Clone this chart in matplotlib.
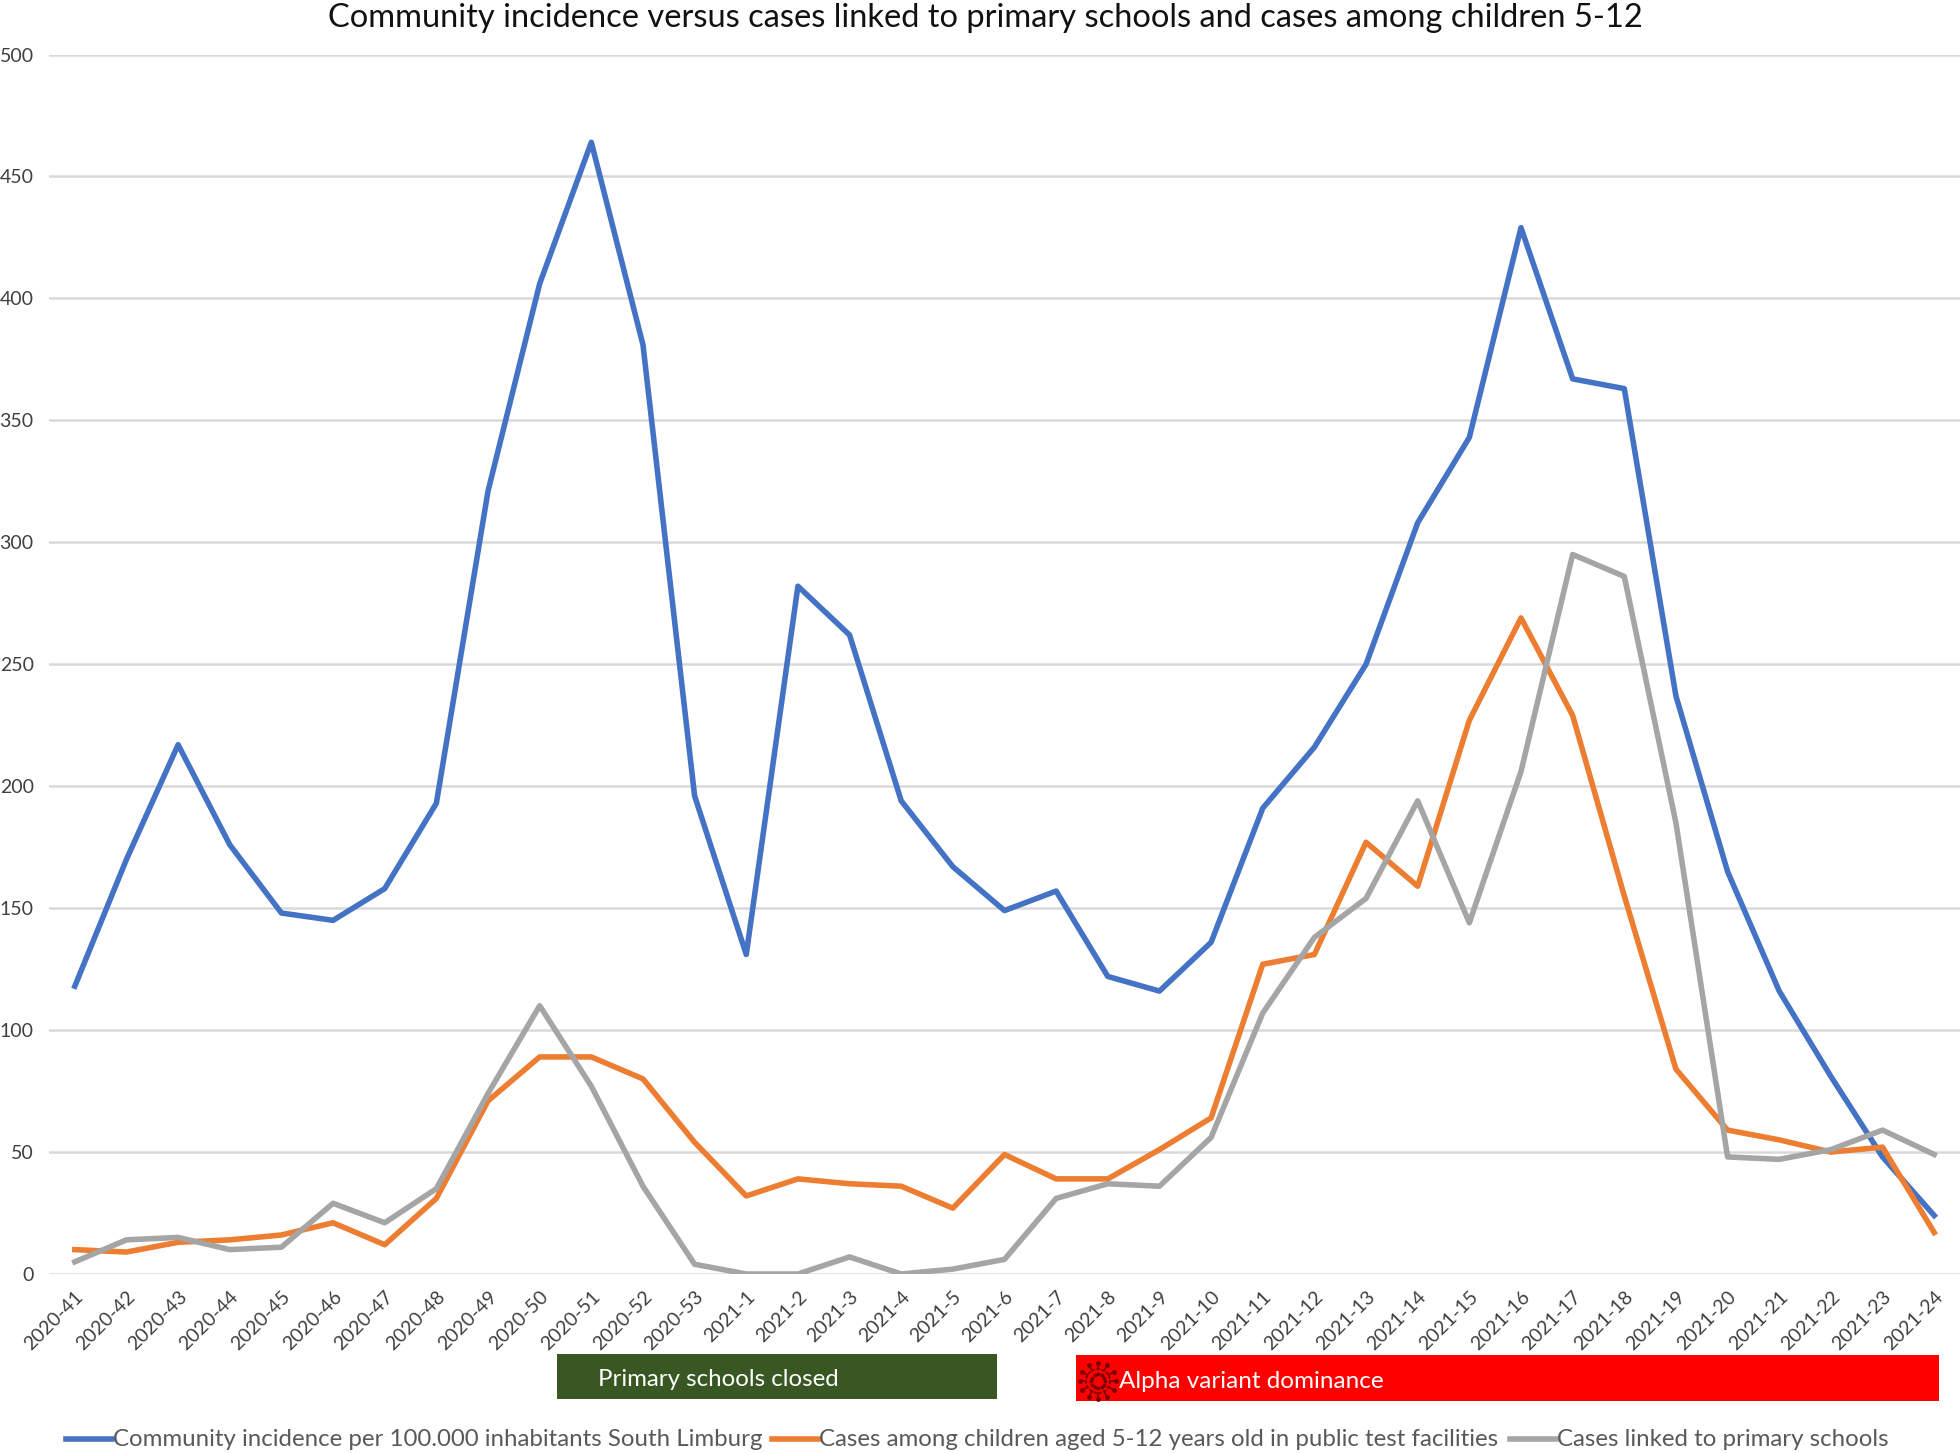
import matplotlib
matplotlib.use("Agg")
import matplotlib.pyplot as plt
from matplotlib.lines import Line2D
from matplotlib.patches import Rectangle
from matplotlib.transforms import blended_transform_factory
import numpy as np

W, H = 1960, 1453

weeks = ["2020-%d" % w for w in range(41, 54)] + ["2021-%d" % w for w in range(1, 25)]

community = [118, 170, 217, 176, 148, 145, 158, 193, 321, 406, 464, 381, 196,
             131, 282, 262, 194, 167, 149, 157, 122, 116, 136, 191, 216, 250,
             308, 343, 429, 367, 363, 237, 165, 116, 81, 48, 24]
children = [10, 9, 13, 14, 16, 21, 12, 31, 71, 89, 89, 80, 54,
            32, 39, 37, 36, 27, 49, 39, 39, 51, 64, 127, 131, 177,
            159, 227, 269, 229, 155, 84, 59, 55, 50, 52, 17]
schools = [5, 14, 15, 10, 11, 29, 21, 35, 74, 110, 77, 36, 4,
           0, 0, 7, 0, 2, 6, 31, 37, 36, 56, 107, 138, 154,
           194, 144, 206, 295, 286, 185, 48, 47, 51, 59, 49]

# spans of the two bars under the axis, in week positions
closed_span = (9.34, 17.85)
alpha_span = (19.38, 36.1)

BLUE = "#4472C4"
ORANGE = "#ED7D31"
GRAY = "#A5A5A5"
TEXT = "#595959"

plt.rcParams["font.family"] = ["Lato", "DejaVu Sans"]


def fx(x):
    return x / W


def fy(y):
    return 1 - y / H


fig = plt.figure(figsize=(W / 100, H / 100), dpi=100)
ax = fig.add_axes([fx(49), fy(1274), fx(1960) - fx(49), fy(54.5) - fy(1274)])

x = np.arange(len(weeks))
ax.plot(x, community, color=BLUE, lw=4, zorder=3)
ax.plot(x, children, color=ORANGE, lw=4, zorder=4)
ax.plot(x, schools, color=GRAY, lw=4, zorder=5)

ax.set_xlim(-0.5, len(weeks) - 0.5)
ax.set_ylim(0, 500)
ax.set_yticks(range(0, 501, 50))
ax.set_xticks(x)
ax.set_xticklabels(weeks, rotation=45, ha="right", rotation_mode="anchor")
ax.tick_params(axis="x", length=0, pad=10, labelsize=14, labelcolor="#404040")
ax.tick_params(axis="y", length=0, pad=11, labelsize=14, labelcolor="#404040")
ax.grid(axis="y", color="#D9D9D9", lw=1.8)
ax.set_axisbelow(True)
for s in ax.spines.values():
    s.set_visible(False)

fig.text(fx(985), fy(18), "Community incidence versus cases linked to primary schools and cases among children 5-12",
         ha="center", va="center", fontsize=23.5, color="#111111")

# bars below the axis, x follows the weeks
trans = blended_transform_factory(ax.transData, fig.transFigure)
ax.add_patch(Rectangle((closed_span[0], fy(1399)), closed_span[1] - closed_span[0], fy(1354) - fy(1399),
                       transform=trans, color="#385723", clip_on=False, lw=0))
ax.add_patch(Rectangle((alpha_span[0], fy(1401)), alpha_span[1] - alpha_span[0], fy(1355) - fy(1401),
                       transform=trans, color="#FF0000", clip_on=False, lw=0))
fig.text(fx(598), fy(1380), "Primary schools closed", color="white", fontsize=17.3, va="center")
fig.text(fx(1119), fy(1382), "Alpha variant dominance", color="white", fontsize=17.5, va="center")

# virus icon
cx, cy, r = 1098, 1381, 12
dark = "#7A0000"
for ang in np.arange(0, 360, 30):
    a = np.radians(ang)
    fig.add_artist(Line2D([fx(cx + r * np.cos(a)), fx(cx + (r + 5) * np.cos(a))],
                          [fy(cy + r * np.sin(a)), fy(cy + (r + 5) * np.sin(a))],
                          color=dark, lw=1.2))
    fig.add_artist(Line2D([fx(cx + (r + 6) * np.cos(a))], [fy(cy + (r + 6) * np.sin(a))],
                          marker="o", ms=2.5, color=dark, lw=0))
    fig.add_artist(Line2D([fx(cx + 7 * np.cos(a))], [fy(cy + 7 * np.sin(a))],
                          marker="o", ms=1.8, color=dark, lw=0))
angs = np.radians(np.arange(0, 361, 10))
fig.add_artist(Line2D(fx(cx + r * np.cos(angs)), fy(cy + r * np.sin(angs)), color=dark, lw=1.2, ls=(0, (2, 1))))

# legend, placed by hand
entries = [(66, 112, BLUE, "Community incidence per 100.000 inhabitants South Limburg"),
           (772, 818, ORANGE, "Cases among children aged 5-12 years old in public test facilities"),
           (1510, 1556, GRAY, "Cases linked to primary schools")]
for x0, x1, col, label in entries:
    fig.add_artist(Line2D([fx(x0), fx(x1)], [fy(1439), fy(1439)], color=col, lw=4))
    fig.text(fx(x1 + 1), fy(1440), label, color=TEXT, fontsize=17.3, va="center")

fig.savefig("out.png", dpi=100)
